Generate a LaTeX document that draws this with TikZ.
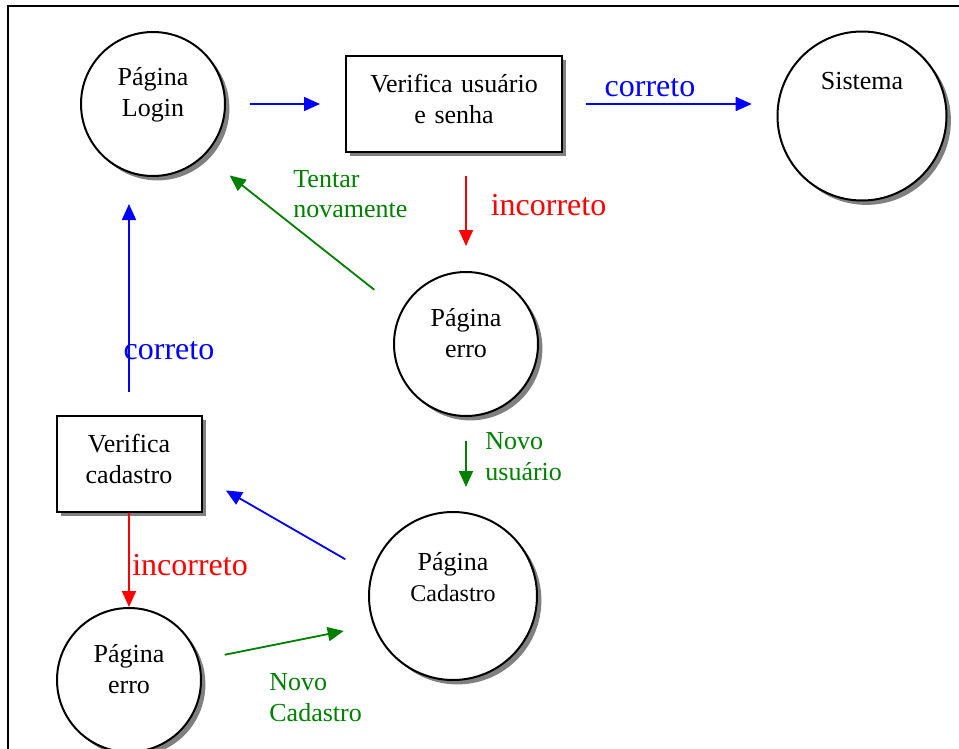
\documentclass[tikz,border=0pt]{standalone}
\usepackage{fontspec}
\setmainfont{Liberation Serif}
\usetikzlibrary{arrows.meta,shadows}
\definecolor{flowgreen}{RGB}{0,128,0}
\tikzset{
  shaded shape/.style={
    draw=black, line width=1pt, fill=white,
    drop shadow={shadow xshift=2.2pt, shadow yshift=-2.2pt, fill=gray, opacity=1},
    inner sep=0pt, align=center,
    font=\fontsize{13}{15.5}\selectfont,
    text height=0pt, text depth=#1
  },
  page circle/.style={
    shaded shape=#1, circle, minimum size=72pt, text width=60pt
  },
  check box/.style={
    shaded shape=#1, rectangle, minimum height=48pt
  },
  flow/.style={
    line width=0.9pt, -{Triangle[length=8pt,width=7pt]}
  },
  big label/.style={
    font=\fontsize{16}{19}\selectfont, anchor=base, inner sep=0pt
  },
  small label/.style={
    font=\fontsize{13}{15.5}\selectfont, text=flowgreen,
    text width=70pt, align=left, anchor=base west, inner sep=0pt
  }
}

\begin{document}
\begin{tikzpicture}[x=0.5pt, y=-0.5pt]
\useasboundingbox (0,0) rectangle (959,749);
\draw[line width=1pt] (959,6) -- (8,6) -- (8,749);

\node[page circle=18pt] (login) at (153,104) {Página\\Login};
\node[check box=11pt, minimum width=108pt, text width=100pt] (verusr) at (454,104) {Verifica usuário\\e senha};
\node[page circle=26pt, minimum size=84.5pt] (sistema) at (862,116) {Sistema};
\node[page circle=18pt] (erro1) at (466,344) {Página\\erro};
\node[page circle=26pt, minimum size=84pt] (cadastro) at (453,596) {Página\\\fontsize{12}{14.5}\selectfont Cadastro};
\node[check box=12pt, minimum width=72.5pt, text width=64pt] (vercad) at (129,464) {Verifica\\cadastro};
\node[page circle=18pt] (erro2) at (129,680) {Página\\erro};

\draw[flow, blue, shorten <=12pt, shorten >=12.5pt] (login) -- (verusr);
\draw[flow, blue, shorten <=11.5pt, shorten >=12.4pt] (verusr.east) -- (verusr.east -| sistema.west);
\draw[flow, red, shorten <=11.5pt, shorten >=12.5pt] (erro1 |- verusr.south) -- (erro1.north);
\draw[flow, flowgreen, shorten <=17pt, shorten >=16pt] (erro1.153) -- (login.-45);
\draw[flow, flowgreen, shorten <=12pt, shorten >=12pt] (erro1.south) -- (erro1.south |- cadastro.north);
\draw[flow, blue, shorten <=14.8pt, shorten >=13.5pt] (cadastro.165) -- (vercad.-10);
\draw[flow, blue, shorten <=11.5pt, shorten >=13.5pt] (vercad.north) -- (vercad.north |- login.south);
\draw[flow, red] (vercad.south) -- (erro2.north);
\draw[flow, flowgreen, shorten <=13pt, shorten >=15pt] (erro2.16) -- (cadastro.200);

\node[big label, text=blue] (correto top) at (650,96.5) {correto};
\node[big label, text=red] (incorreto top) at (548.5,215.5) {incorreto};
\node[small label] (tentar) at (293,187) {Tentar\\novamente};
\node[small label] (novo usuario) at (485,449.5) {Novo\\usuário};
\node[big label, text=blue] (correto left) at (169,359.5) {correto};
\node[big label, text=red] (incorreto left) at (190,575) {incorreto};
\node[small label] (novo cadastro) at (269,690.5) {Novo\\Cadastro};
\end{tikzpicture}
\end{document}
